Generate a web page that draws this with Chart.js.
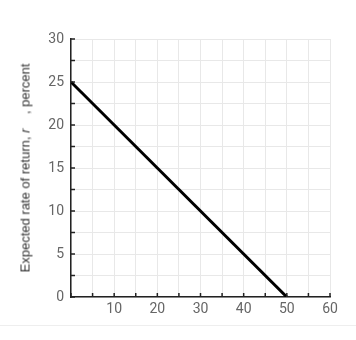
<!DOCTYPE html>
<html>
<head>
<meta charset="utf-8">
<script src="https://cdn.jsdelivr.net/npm/chart.js@4.4.0/dist/chart.umd.min.js"></script>
<style>
  body { margin: 0; background: #fff; font-family: Roboto, sans-serif; }
  #wrap { position: relative; width: 356px; height: 340px; }
  #yTitle {
    position: absolute; left: 25px; top: 168px;
    transform: translate(-50%, -50%) rotate(-90deg);
    white-space: nowrap; font-family: "Liberation Sans", Arial, sans-serif; font-size: 13px; color: #333;
  }
  #footLine { position: absolute; left: 0; top: 325px; width: 356px; border-top: 1px solid #eeeeee; }
</style>
</head>
<body>
<div id="wrap">
  <canvas id="myChart" width="356" height="340"></canvas>
  <div id="yTitle">Expected rate of return, <i>r</i> &nbsp;&nbsp;&nbsp;, percent</div>
  <div id="footLine"></div>
</div>
<script>
// data
const xValues = [0, 50];
const rateValues = [25, 0];
const xTickLabels = [10, 20, 30, 40, 50, 60];
const yTickLabels = [0, 5, 10, 15, 20, 25, 30];

// tick marks pointing into the plot
const innerTicks = {
  id: 'innerTicks',
  afterDraw(chart) {
    const ctx = chart.ctx;
    const xs = chart.scales.x, ys = chart.scales.y;
    const area = chart.chartArea;
    ctx.save();
    ctx.strokeStyle = '#222';
    ctx.lineWidth = 1.5;
    xs.ticks.forEach(t => {
      const px = xs.getPixelForValue(t.value);
      ctx.beginPath(); ctx.moveTo(px, area.bottom); ctx.lineTo(px, area.bottom - 4); ctx.stroke();
    });
    ys.ticks.forEach(t => {
      const py = ys.getPixelForValue(t.value);
      ctx.beginPath(); ctx.moveTo(area.left, py); ctx.lineTo(area.left + 4, py); ctx.stroke();
    });
    ctx.restore();
  }
};

new Chart(document.getElementById('myChart').getContext('2d'), {
  type: 'line',
  data: {
    datasets: [{
      data: xValues.map((x, i) => ({ x: x, y: rateValues[i] })),
      borderColor: '#000',
      borderWidth: 3,
      pointRadius: 0,
      tension: 0
    }]
  },
  options: {
    responsive: false,
    animation: false,
    layout: { padding: { left: 0, top: 39, right: 26, bottom: 0 } },
    plugins: { legend: { display: false }, tooltip: { enabled: false } },
    scales: {
      x: {
        type: 'linear', min: 0, max: 60,
        afterFit: s => { s.height = 43; },
        grid: { color: '#e8e8e8', drawTicks: false },
        border: { color: '#222', width: 1.5 },
        ticks: {
          stepSize: 5, padding: 4, color: '#666', font: { family: 'Roboto', size: 14 },
          maxRotation: 0, autoSkip: false,
          callback: v => xTickLabels.includes(v) ? String(v) : ''
        }
      },
      y: {
        min: 0, max: 30,
        afterFit: s => { s.width = 71; },
        grid: { color: '#e8e8e8', drawTicks: false },
        border: { color: '#222', width: 1.5 },
        ticks: {
          stepSize: 2.5, padding: 7, color: '#666', font: { family: 'Roboto', size: 14 },
          autoSkip: false,
          callback: v => yTickLabels.includes(v) ? String(v) : ''
        }
      }
    }
  },
  plugins: [innerTicks]
});
</script>
</body>
</html>
